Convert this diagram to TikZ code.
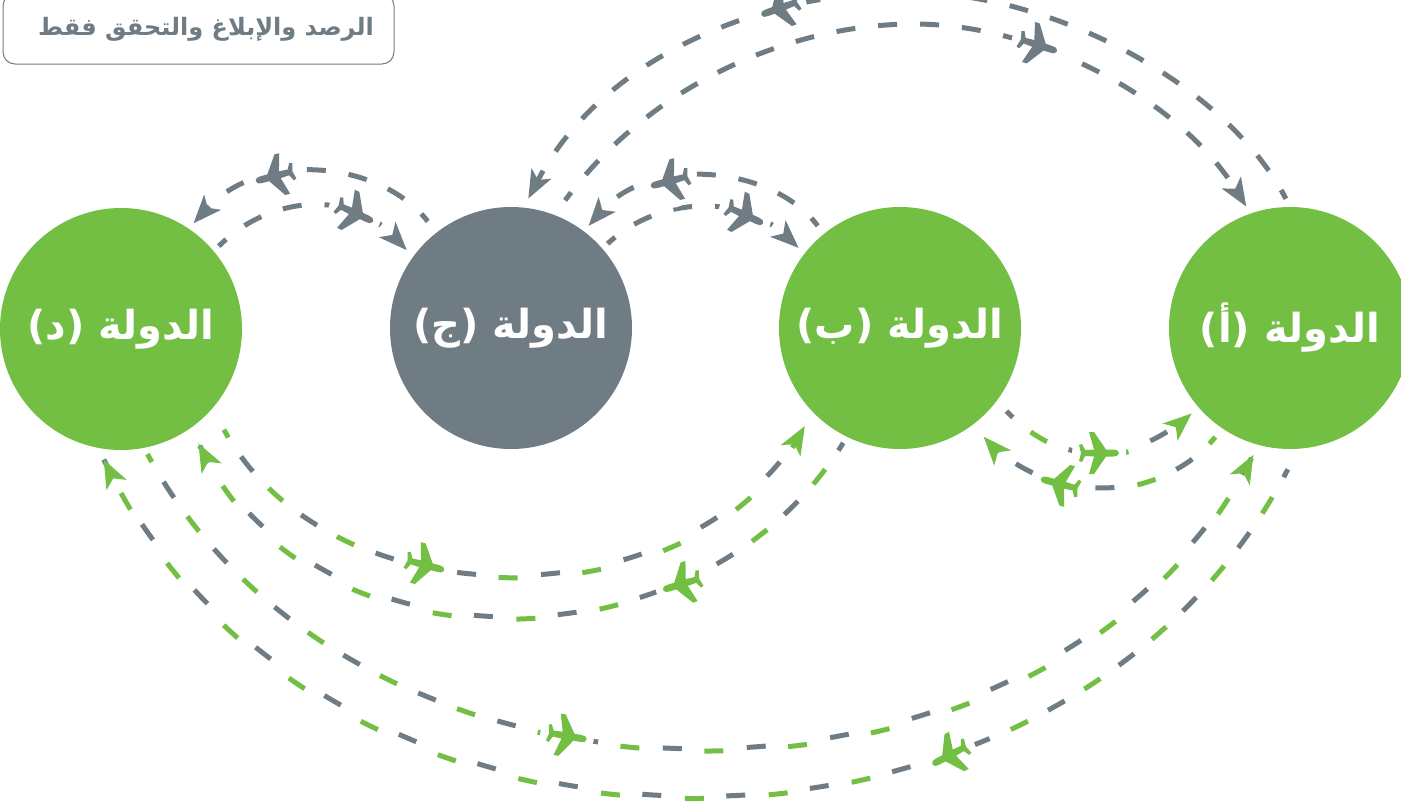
\documentclass[tikz,border=0pt]{standalone}
\usepackage{fontspec}
\usepackage{tikz}
\usetikzlibrary{arrows.meta}
\TeXXeTstate=1
\newfontfamily\arabicfont[Script=Arabic]{DejaVu Sans}
\definecolor{stategreen}{RGB}{114,191,68}
\definecolor{stategray}{RGB}{112,124,132}
\tikzset{>=latex}
\tikzset{
  statecircle/.style = {circle, minimum size = 242pt, inner sep = 0pt, text = white, font = \arabicfont\bfseries\fontsize{40}{48}\selectfont},
  legendbox/.style = {draw = stategray, line width = 1pt, rounded corners = 12pt, minimum width = 391pt, minimum height = 70pt, text = stategray, font = \arabicfont\bfseries\fontsize{24}{30}\selectfont},
  tiptop/.style = {-{Stealth[length = 28pt, width = 22pt, inset = 7pt]}},
  grayroute/.style = {draw = stategray, line width = 5pt, line cap = butt, dash pattern = on 19pt off 23pt, dash phase = 9pt, tiptop},
  firstgreen/.style = {draw = stategreen, line width = 5pt, line cap = butt, dash pattern = on 19pt off 65pt, dash phase = 10pt, tiptop,
    preaction = {draw = stategray, line width = 5pt, -, dash pattern = on 19pt off 65pt, dash phase = 52pt}},
  firstgray/.style = {draw = stategreen, line width = 5pt, line cap = butt, dash pattern = on 19pt off 65pt, dash phase = 52pt, tiptop,
    preaction = {draw = stategray, line width = 5pt, -, dash pattern = on 19pt off 65pt, dash phase = 10pt}},
  planeicon/.pic = {
    \fill[white] (0,0) circle (27);
    \path[pic actions] (20,0) .. controls (20,-3) and (17,-3.5) .. (14,-3.5)
      -- (7,-3.5) -- (-5,-21) -- (-10,-21) -- (-5,-3.5) -- (-14,-3) -- (-17,-9) -- (-20,-8) -- (-18,0)
      -- (-20,8) -- (-17,9) -- (-14,3) -- (-5,3.5) -- (-10,21) -- (-5,21) -- (7,3.5) -- (14,3.5)
      .. controls (17,3.5) and (20,3) .. (20,0) -- cycle;
  }
}

\begin{document}
\begin{tikzpicture}[x = 1pt, y = -1pt]
\useasboundingbox (0,0) rectangle (1401,811);
% states
\node[statecircle, fill = stategreen] (stateA) at (1290,328) {\beginR الدولة (أ)\endR};
\node[statecircle, fill = stategreen] (stateB) at (900,328) {\beginR الدولة (ب)\endR};
\node[statecircle, fill = stategray] (stateC) at (511,328) {\beginR الدولة (ج)\endR};
\node[statecircle, fill = stategreen] (stateD) at (121,329) {\beginR الدولة (د)\endR};
\node[legendbox] (monitorBox) at (198.5,29) {\hspace*{15pt}\beginR الرصد والإبلاغ والتحقق فقط\endR};
\coordinate (topOuter) at (905,-8);
\coordinate (topInner) at (914,24);
% gray routes
\draw[grayroute, shorten <= 14pt, shorten >= 7pt] (stateC.128) .. controls (380,160) and (260,150) .. (stateD.56);
\draw[grayroute, shorten <= 7pt, shorten >= 9pt] (stateD.40) .. controls (270,195) and (350,190) .. (stateC.144);
\draw[grayroute, shorten <= 10pt, shorten >= 7pt] (stateB.129) .. controls (772,165) and (650,155) .. (stateC.53);
\draw[grayroute, shorten <= 7pt, shorten >= 8pt] (stateC.41) .. controls (660,195) and (742,195) .. (stateB.142);
\draw[grayroute, shorten <= 9pt, shorten >= 10pt] (stateA.90) .. controls (1230,90) and (1060,-8) .. (topOuter) .. controls (770,-8) and (605,52) .. (stateC.84);
\draw[grayroute, shorten <= 18pt, shorten >= 8pt] (stateC.69) .. controls (650,85) and (790,24) .. (topInner) .. controls (1040,24) and (1180,100) .. (stateA.109);
% mixed routes
\draw[firstgreen, shorten <= 24pt, shorten >= 16pt] (stateD.-41) .. controls (330,625) and (690,625) .. (stateB.-136);
\draw[firstgray, shorten <= 7pt, shorten >= 17pt] (stateB.-116) .. controls (700,675) and (320,675) .. (stateD.-55);
\draw[firstgreen, shorten <= 7pt, shorten >= 11pt] (stateD.-79) .. controls (360,847) and (1040,847) .. (stateA.-105);
\draw[firstgray, shorten <= 23pt, shorten >= 13pt] (stateA.-86) .. controls (1060,907) and (330,907) .. (stateD.-101);
\draw[firstgray, shorten <= 14pt, shorten >= 9pt] (stateB.-37) .. controls (1060,467) and (1130,467) .. (stateA.-139);
\draw[firstgreen, shorten <= 11pt, shorten >= 16pt] (stateA.-124) .. controls (1160,505) and (1045,505) .. (stateB.-53);
% planes
\pic[rotate = 195, fill = stategray] at (275,176) {planeicon};
\pic[rotate = -25, fill = stategray] at (355,213) {planeicon};
\pic[rotate = 195, fill = stategray] at (670,181) {planeicon};
\pic[rotate = -25, fill = stategray] at (745,215) {planeicon};
\pic[rotate = 200, fill = stategray] at (780,8) {planeicon};
\pic[rotate = -18, fill = stategray] at (1038,45) {planeicon};
\pic[rotate = -15, fill = stategreen] at (425,565) {planeicon};
\pic[rotate = 197, fill = stategreen] at (682,584) {planeicon};
\pic[rotate = -10, fill = stategreen] at (567,736) {planeicon};
\pic[rotate = 208, fill = stategreen] at (950,755) {planeicon};
\pic[rotate = 0, fill = stategreen] at (1099,453) {planeicon};
\pic[rotate = 165, fill = stategreen] at (1060,484) {planeicon};
\end{tikzpicture}
\end{document}
